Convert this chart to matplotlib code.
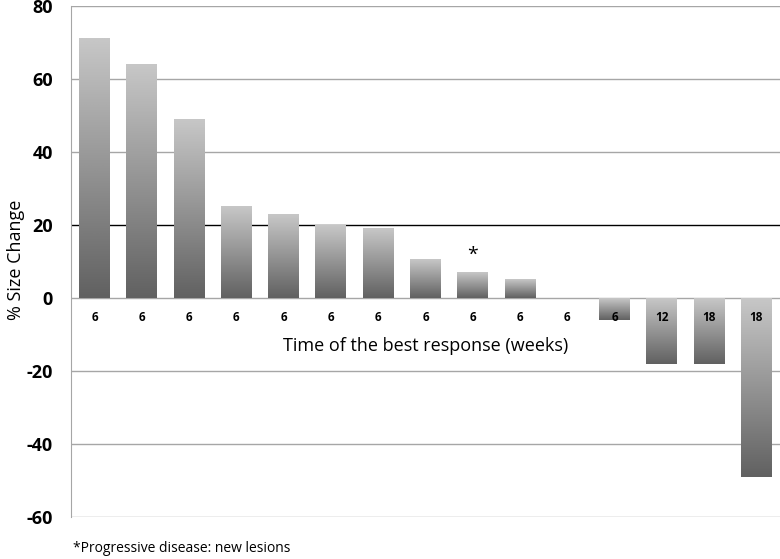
import numpy as np
import matplotlib.pyplot as plt

# % size change per patient, ordered as a waterfall
changes = [71, 64, 49, 25, 23, 20, 19, 10.5, 7, 5, 0, -6, -18, -18, -49]
weeks = ["6", "6", "6", "6", "6", "6", "6", "6", "6", "6", "6", "6", "12", "18", "18"]
flagged = [8]  # progressive disease: new lesions
yticks = [-60, -40, -20, 0, 20, 40, 60, 80]

plt.rcParams['font.family'] = ['Open Sans', 'DejaVu Sans']

fig = plt.figure(figsize=(7.8, 5.59), dpi=100)
ax = fig.add_axes([0.091, 0.075, 0.909, 0.914])

width = 0.655
grad = np.linspace(0.78, 0.38, 256).reshape(-1, 1)
for i, v in enumerate(changes):
    if v == 0:
        continue
    lo, hi = min(0, v), max(0, v)
    ax.imshow(grad, cmap='gray', vmin=0, vmax=1, aspect='auto',
              extent=[i - width / 2, i + width / 2, lo, hi], zorder=2,
              interpolation='bicubic')

for y in yticks:
    color = 'black' if y == 20 else '#a6a6a6'
    ax.axhline(y, color=color, lw=1.0, zorder=1)

for i, w in enumerate(weeks):
    ax.text(i, -5.3, w, ha='center', va='center', fontsize=8.5,
            fontweight='bold', zorder=3)

for i in flagged:
    ax.text(i, 11.8, '*', ha='center', va='center', fontsize=14)

ax.text(7.0, -13, 'Time of the best response (weeks)', ha='center',
        va='center', fontsize=13)

ax.set_xlim(-0.5, 14.5)
ax.set_ylim(-60, 80)
ax.set_yticks(yticks)
ax.set_yticklabels([str(t) for t in yticks], fontsize=13, fontweight='bold')
ax.set_xticks([])
ax.tick_params(axis='y', length=0, pad=13)
for s in ['top', 'right', 'bottom']:
    ax.spines[s].set_visible(False)
ax.spines['left'].set_color('#a6a6a6')

fig.text(16 / 780, 0.535, '% Size Change', rotation=90, ha='center',
         va='center', fontsize=13)
fig.text(0.094, 0.012, '*Progressive disease: new lesions', fontsize=10)

fig.savefig('out.png', dpi=100)
